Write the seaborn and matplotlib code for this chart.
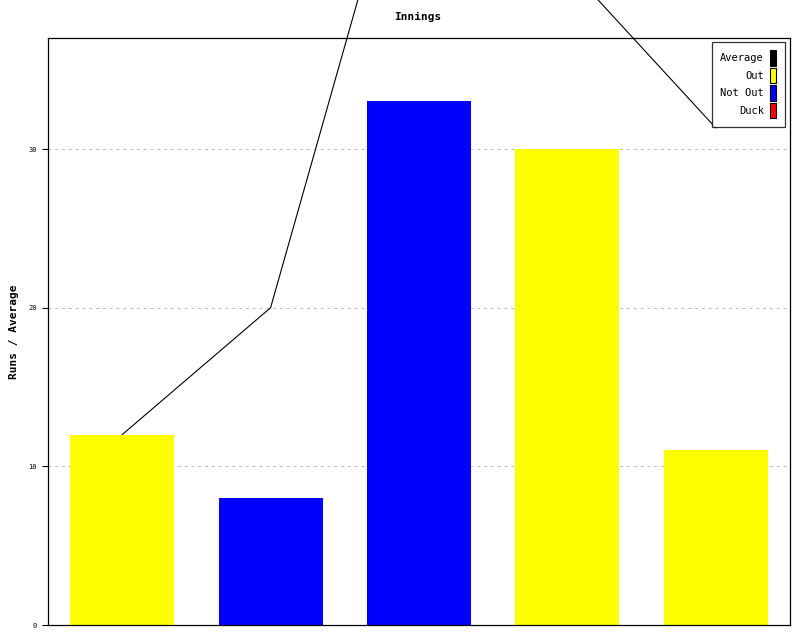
import numpy as np
import pandas as pd
import matplotlib
matplotlib.use("Agg")
import matplotlib.pyplot as plt
import seaborn as sns
from matplotlib.patches import Patch

# innings data
innings = ["1", "2", "3", "4", "5"]
runs = [12, 8, 33, 30, 11]
status = ["Out", "Not Out", "Not Out", "Out", "Out"]
average = [12, 20, 53, 41.5, 31.33]

colours = {"Average": "#000000", "Out": "#ffff00", "Not Out": "#0000ff", "Duck": "#ff0000"}

sns.set_style("white")
plt.rcParams["font.family"] = ["DejaVu Sans Mono", "DejaVu Sans"]
plt.rcParams["text.color"] = "black"
plt.rcParams["ytick.color"] = "black"
plt.rcParams["axes.labelcolor"] = "black"

df = pd.DataFrame({"inning": innings, "runs": runs, "status": status})

fig = plt.figure(figsize=(8, 6.4), dpi=100)
ax = fig.add_axes([48 / 800, 1 - 625 / 640, (790 - 48) / 800, (625 - 38) / 640])

sns.barplot(data=df, x="inning", y="runs", hue="status", palette=colours,
            dodge=False, width=0.7, saturation=1, legend=False, linewidth=0, ax=ax)
ax.plot(range(len(average)), average, color="black", lw=0.8, clip_on=False, zorder=3)

ax.set_xlim(-0.5, 4.5)
ax.set_ylim(0, 37)
ax.set_yticks([0, 10, 20, 30])
ax.set_xticks([])
ax.set_xlabel("")
ax.set_ylabel("Runs / Average", fontsize=8, fontweight="bold")
ax.yaxis.set_label_coords(-29 / 742, 0.5)
ax.tick_params(axis="y", labelsize=5, length=4, width=0.8, left=True, pad=4)
ax.yaxis.grid(True, linestyle=(0, (3, 4)), color="#bbbbbb", lw=0.7)
ax.set_axisbelow(True)
for s in ax.spines.values():
    s.set_color("black")
    s.set_linewidth(0.9)

fig.text(0.5225, 1 - 17 / 640, "Innings", ha="center", va="center",
         fontsize=8, fontweight="bold")

handles = [Patch(facecolor=c, edgecolor="black", lw=0.8, label=k) for k, c in colours.items()]
leg = ax.legend(handles=handles, loc="upper right", markerfirst=False, fontsize=7.5,
                frameon=True, fancybox=False, handlelength=0.6, handleheight=1.9,
                handletextpad=0.6, labelspacing=0.2, borderpad=0.8, borderaxespad=0,
                bbox_to_anchor=(0.993, 0.993))
leg.get_frame().set_edgecolor("black")
leg.get_frame().set_linewidth(0.9)
leg.set_zorder(5)
for t in leg.get_texts():
    t.set_ha("right")

fig.savefig("out.png", dpi=100)
